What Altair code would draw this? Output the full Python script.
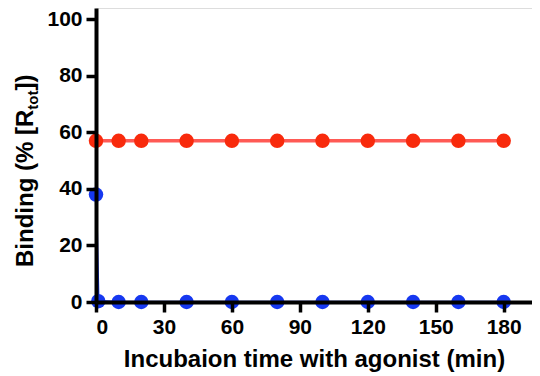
import altair as alt
import pandas as pd

# ---- data ----
red_time = [0, 10, 20, 40, 60, 80, 100, 120, 140, 160, 180]
red_binding = [57, 57, 57, 57, 57, 57, 57, 57, 57, 57, 57]
blue_time = [0, 1, 10, 20, 40, 60, 80, 100, 120, 140, 160, 180]
blue_binding = [38, 0.3, 0, 0, 0, 0, 0, 0, 0, 0, 0, 0]
x_ticks = [0, 30, 60, 90, 120, 150, 180]
y_ticks = [0, 20, 40, 60, 80, 100]
x_title = "Incubaion time with agonist (min)"
y_title_main = "Binding (% [R"
y_title_sub = "tot"
y_title_end = "])"

FONT = "Liberation Sans"

red_df = pd.DataFrame({"time": red_time, "binding": red_binding})
blue_df = pd.DataFrame({"time": blue_time, "binding": blue_binding})

x_enc = alt.X(
    "time:Q",
    scale=alt.Scale(domain=[0, 192.5], nice=False, zero=False),
    axis=alt.Axis(
        values=x_ticks, title=x_title, grid=False, zindex=1,
        domainColor="black", domainWidth=4, tickColor="black", tickWidth=3.5,
        tickSize=10, labelFont=FONT, labelFontSize=21, labelFontWeight="bold",
        labelColor="black", labelPadding=4, titleFont=FONT, titleFontSize=24,
        titleFontWeight="bold", titleColor="black", titlePadding=10,
    ),
)
y_enc = alt.Y(
    "binding:Q",
    scale=alt.Scale(domain=[0, 104], nice=False),
    axis=alt.Axis(
        values=y_ticks, title=None, grid=False, zindex=1,
        domainColor="black", domainWidth=4, tickColor="black", tickWidth=3.5,
        tickSize=10, labelFont=FONT, labelFontSize=21, labelFontWeight="bold",
        labelColor="black", labelPadding=4,
    ),
)

red_line = alt.Chart(red_df).mark_line(color="#FF5A55", strokeWidth=3.5).encode(x=x_enc, y=y_enc)
red_pts = alt.Chart(red_df).mark_circle(color="#F82A0C", size=210, opacity=1).encode(x=x_enc, y=y_enc)
blue_line = alt.Chart(blue_df).mark_line(color="#1030D8", strokeWidth=2.5).encode(x=x_enc, y=y_enc)
blue_pts = alt.Chart(blue_df).mark_circle(color="#1638F0", size=210, opacity=1).encode(x=x_enc, y=y_enc)

one = alt.Data(values=[{"k": 1}])
title_style = dict(angle=270, align="left", baseline="alphabetic", font=FONT,
                   fontWeight="bold", color="black")
t1 = alt.Chart(one).mark_text(text=y_title_main, fontSize=24, **title_style).encode(
    x=alt.value(-63), y=alt.value(259))
t2 = alt.Chart(one).mark_text(text=y_title_sub, fontSize=15, **title_style).encode(
    x=alt.value(-58), y=alt.value(101.7))
t3 = alt.Chart(one).mark_text(text=y_title_end, fontSize=24, **title_style).encode(
    x=alt.value(-63), y=alt.value(82.5))

chart = alt.layer(red_line, blue_line, red_pts, blue_pts, t1, t2, t3).properties(
    width=436, height=294,
    autosize=alt.AutoSizeParams(type="none"),
    padding={"left": 88, "top": 0, "right": 0, "bottom": 74},
).configure_view(stroke=None).configure(background="white")

chart.save("out.html", embed_options={"renderer": "svg", "actions": False})
